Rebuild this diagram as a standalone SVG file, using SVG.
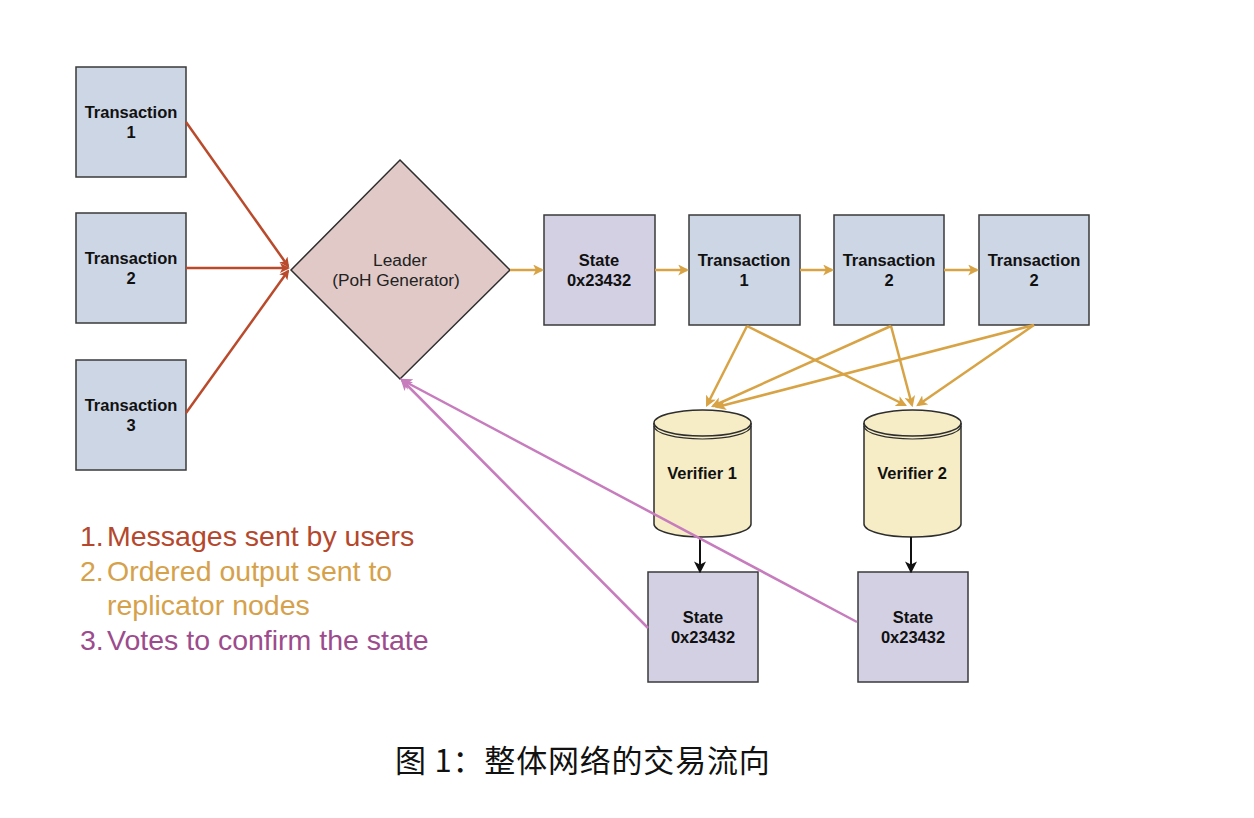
<svg xmlns="http://www.w3.org/2000/svg" width="1254" height="818" viewBox="0 0 1254 818">
<defs>
<style>
.tx{fill:#cdd6e5;stroke:#3a3a3a;stroke-width:1.5}
.st{fill:#d3d0e4;stroke:#3a3a3a;stroke-width:1.5}
.lb{font-family:"Liberation Sans",Arial,sans-serif;font-size:16.5px;font-weight:bold;fill:#111;text-anchor:middle}
.ld{font-family:"Liberation Sans",Arial,sans-serif;font-size:17.3px;fill:#222;text-anchor:middle}
.lg{font-family:"Liberation Sans",Arial,sans-serif;font-size:28.5px}
.r{stroke:#b94a2b;stroke-width:2.5;fill:none}
.o{stroke:#d8a345;stroke-width:2.5;fill:none}
.p{stroke:#c67cbd;stroke-width:2.5;fill:none}
.k{stroke:#111;stroke-width:2;fill:none}
</style>
<marker id="mr" markerWidth="10" markerHeight="10" refX="8" refY="5" orient="auto" markerUnits="userSpaceOnUse" viewBox="0 0 10 10"><path d="M0,0 L10,5 L0,10 L2.5,5 z" fill="#b94a2b"/></marker>
<marker id="mo" markerWidth="11" markerHeight="11" refX="8" refY="5" orient="auto" markerUnits="userSpaceOnUse" viewBox="0 0 10 10"><path d="M0,0 L10,5 L0,10 L2.5,5 z" fill="#d8a345"/></marker>
<marker id="mp" markerWidth="12" markerHeight="12" refX="8" refY="5" orient="auto" markerUnits="userSpaceOnUse" viewBox="0 0 10 10"><path d="M0,0 L10,5 L0,10 L2.5,5 z" fill="#c67cbd"/></marker>
<marker id="mk" markerWidth="12" markerHeight="12" refX="8" refY="5" orient="auto" markerUnits="userSpaceOnUse" viewBox="0 0 10 10"><path d="M0,0 L10,5 L0,10 L2.5,5 z" fill="#111"/></marker>
</defs>
<rect width="1254" height="818" fill="#fff"/>

<g id="tx1"><rect class="tx" x="76" y="67" width="110" height="110"/><text class="lb" x="131" y="118">Transaction</text><text class="lb" x="131" y="138">1</text></g>
<g id="tx2"><rect class="tx" x="76" y="213" width="110" height="110"/><text class="lb" x="131" y="264">Transaction</text><text class="lb" x="131" y="284">2</text></g>
<g id="tx3"><rect class="tx" x="76" y="360" width="110" height="110"/><text class="lb" x="131" y="411">Transaction</text><text class="lb" x="131" y="431">3</text></g>

<g id="leader"><polygon points="400,160 510,270 400,379 291,270" fill="#e0c9c7" stroke="#2e2e2e" stroke-width="1.5"/><text class="ld" x="400" y="266">Leader</text><text class="ld" x="396" y="286">(PoH Generator)</text></g>

<g id="state0"><rect class="st" x="544" y="215" width="111" height="110"/><text class="lb" x="599" y="266">State</text><text class="lb" x="599" y="286">0x23432</text></g>
<g id="rtx1"><rect class="tx" x="689" y="215" width="111" height="110"/><text class="lb" x="744" y="266">Transaction</text><text class="lb" x="744" y="286">1</text></g>
<g id="rtx2"><rect class="tx" x="834" y="215" width="110" height="110"/><text class="lb" x="889" y="266">Transaction</text><text class="lb" x="889" y="286">2</text></g>
<g id="rtx3"><rect class="tx" x="979" y="215" width="110" height="110"/><text class="lb" x="1034" y="266">Transaction</text><text class="lb" x="1034" y="286">2</text></g>

<g id="verifier1">
<path d="M654,423 L654,524 A48.5,13 0 0 0 751,524 L751,423" fill="#f6edc6" stroke="#2e2e2e" stroke-width="1.5"/>
<ellipse cx="702.5" cy="423" rx="48.5" ry="13" fill="#f6edc6" stroke="#2e2e2e" stroke-width="1.5"/>
<path d="M654,426 A48.5,13 0 0 0 751,426" fill="none" stroke="#2e2e2e" stroke-width="1.2"/>
<text class="lb" x="702" y="479">Verifier 1</text>
</g>
<g id="verifier2">
<path d="M864,423 L864,524 A48.5,13 0 0 0 961,524 L961,423" fill="#f6edc6" stroke="#2e2e2e" stroke-width="1.5"/>
<ellipse cx="912.5" cy="423" rx="48.5" ry="13" fill="#f6edc6" stroke="#2e2e2e" stroke-width="1.5"/>
<path d="M864,426 A48.5,13 0 0 0 961,426" fill="none" stroke="#2e2e2e" stroke-width="1.2"/>
<text class="lb" x="912" y="479">Verifier 2</text>
</g>

<g id="state1"><rect class="st" x="648" y="572" width="110" height="110"/><text class="lb" x="703" y="623">State</text><text class="lb" x="703" y="643">0x23432</text></g>
<g id="state2"><rect class="st" x="858" y="572" width="110" height="110"/><text class="lb" x="913" y="623">State</text><text class="lb" x="913" y="643">0x23432</text></g>

<g id="connectors">
<line class="r" x1="186" y1="122" x2="288" y2="266" marker-end="url(#mr)"/>
<line class="r" x1="186" y1="268" x2="288" y2="268" marker-end="url(#mr)"/>
<line class="r" x1="186" y1="413" x2="288" y2="271" marker-end="url(#mr)"/>
<line class="o" x1="510" y1="270" x2="542" y2="270" marker-end="url(#mo)"/>
<line class="o" x1="655" y1="270" x2="687" y2="270" marker-end="url(#mo)"/>
<line class="o" x1="800" y1="270" x2="832" y2="270" marker-end="url(#mo)"/>
<line class="o" x1="944" y1="270" x2="977" y2="270" marker-end="url(#mo)"/>
<line class="o" x1="747" y1="326" x2="707" y2="405" marker-end="url(#mo)"/>
<line class="o" x1="747" y1="326" x2="905" y2="405" marker-end="url(#mo)"/>
<line class="o" x1="891" y1="326" x2="713" y2="406" marker-end="url(#mo)"/>
<line class="o" x1="891" y1="326" x2="912" y2="405" marker-end="url(#mo)"/>
<line class="o" x1="1034" y1="325" x2="717" y2="407" marker-end="url(#mo)"/>
<line class="o" x1="1034" y1="325" x2="918" y2="405" marker-end="url(#mo)"/>
<line class="k" x1="700" y1="537" x2="700" y2="571" marker-end="url(#mk)"/>
<line class="k" x1="911" y1="537" x2="911" y2="571" marker-end="url(#mk)"/>
<line class="p" x1="648" y1="628" x2="402" y2="380" marker-end="url(#mp)"/>
<line class="p" x1="857" y1="622" x2="402" y2="380" marker-end="url(#mp)"/>
</g>

<g id="legend" class="lg">
<text x="80" y="546" fill="#b4472c">1.</text><text x="107" y="546" fill="#b4472c">Messages sent by users</text>
<text x="80" y="581" fill="#d6a14b">2.</text><text x="107" y="581" fill="#d6a14b">Ordered output sent to</text>
<text x="107" y="615" fill="#d6a14b">replicator nodes</text>
<text x="80" y="650" fill="#9c4c8d">3.</text><text x="107" y="650" fill="#9c4c8d">Votes to confirm the state</text>
</g>

<text x="395" y="772" font-family="'Noto Sans CJK SC',sans-serif" font-size="31" letter-spacing="0.8" fill="#111">图 1：整体网络的交易流向</text>
</svg>
